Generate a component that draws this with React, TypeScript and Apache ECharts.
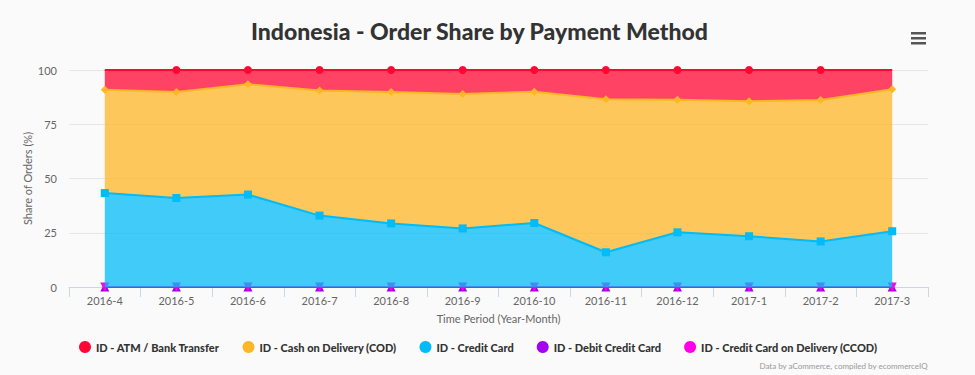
import React, { useEffect, useRef } from "react";
import * as echarts from "echarts";

const categories = ["2016-4","2016-5","2016-6","2016-7","2016-8","2016-9","2016-10","2016-11","2016-12","2017-1","2017-2","2017-3"];
const atmBank = [9.1, 10.1, 6.6, 9.4, 10.1, 11.1, 10.0, 13.5, 13.7, 14.4, 13.8, 8.9];
const cod = [47.6, 48.9, 50.8, 57.7, 60.6, 61.9, 60.5, 70.5, 61.1, 62.2, 65.2, 65.4];
const creditCard = [43.3, 41.0, 42.6, 32.9, 29.3, 27.0, 29.5, 16.0, 25.2, 23.4, 21.0, 25.7];
const debitCreditCard = [0, 0, 0, 0, 0, 0, 0, 0, 0, 0, 0, 0];
const ccod = [0, 0, 0, 0, 0, 0, 0, 0, 0, 0, 0, 0];
const yTicks = [0, 25, 50, 75, 100];

const names = {
  atm: "ID - ATM / Bank Transfer",
  cod: "ID - Cash on Delivery (COD)",
  cc: "ID - Credit Card",
  debit: "ID - Debit Credit Card",
  ccod: "ID - Credit Card on Delivery (CCOD)",
};

const colors = {
  atm: "#FF0633",
  cod: "#FDB625",
  cc: "#02BBF7",
  debit: "#A200EE",
  ccod: "#FF00E6",
};

export default function App() {
  const ref = useRef<HTMLDivElement>(null);
  useEffect(() => {
    if (!ref.current) return;
    const chart = echarts.init(ref.current, null, { renderer: "svg" });
    const font = "Lato, 'Noto Sans', sans-serif";
    const mk = (
      name: string,
      color: string,
      data: any[],
      symbol: string,
      symbolSize: number,
      extra: any = {}
    ) => ({
      name,
      type: "line",
      stack: "total",
      data,
      symbol,
      symbolSize,
      showSymbol: true,
      showAllSymbol: true,
      itemStyle: { color },
      lineStyle: { color, width: 2 },
      areaStyle: { color, opacity: 0.75 },
      emphasis: { disabled: true },
      ...extra,
    });
    const atmData = atmBank.map((v, i) =>
      i === 0 || i === atmBank.length - 1 ? { value: v, symbol: "none" } : v
    );
    chart.setOption({
      animation: false,
      backgroundColor: "#FAFAFA",
      textStyle: { fontFamily: font },
      title: {
        text: "Indonesia - Order Share by Payment Method",
        left: 246,
        top: 14,
        textStyle: { fontFamily: font, fontSize: 23, fontWeight: 900, color: "#333333" },
      },
      legend: {
        data: [names.atm, names.cod, names.cc, names.debit, names.ccod],
        left: 74,
        top: 336,
        icon: "circle",
        itemWidth: 12,
        itemHeight: 12,
        itemGap: 23,
        textStyle: { fontFamily: font, fontSize: 11, fontWeight: 900, color: "#333333" },
      },
      grid: { left: 69, right: 47, top: 70, bottom: 88, containLabel: false },
      xAxis: {
        type: "category",
        data: categories,
        boundaryGap: true,
        name: "Time Period (Year-Month)",
        nameLocation: "middle",
        nameGap: 26,
        nameMoveOverlap: false,
        nameTextStyle: { color: "#666666", fontSize: 11, fontFamily: font },
        axisLine: { lineStyle: { color: "#CCD6EB" } },
        axisTick: { show: true, alignWithLabel: false, length: 10, lineStyle: { color: "#CCD6EB" } },
        axisLabel: { color: "#666666", fontSize: 11, margin: 8, fontFamily: font },
        splitLine: { show: false },
      },
      yAxis: {
        type: "value",
        min: yTicks[0],
        max: yTicks[yTicks.length - 1],
        interval: 25,
        name: "Share of Orders (%)",
        nameLocation: "middle",
        nameGap: 36,
        nameMoveOverlap: false,
        nameRotate: 90,
        nameTextStyle: { color: "#666666", fontSize: 11, fontFamily: font },
        axisLine: { show: false },
        axisTick: { show: false },
        axisLabel: { color: "#666666", fontSize: 11, margin: 12, fontFamily: font },
        splitLine: { lineStyle: { color: "#E6E6E6", width: 1 } },
      },
      graphic: [
        { type: "rect", shape: { x: 911, y: 32, width: 15, height: 2.5 }, style: { fill: "#555" } },
        { type: "rect", shape: { x: 911, y: 37, width: 15, height: 2.5 }, style: { fill: "#555" } },
        { type: "rect", shape: { x: 911, y: 42, width: 15, height: 2.5 }, style: { fill: "#555" } },
        {
          type: "text",
          right: 47,
          top: 362,
          style: {
            text: "Data by aCommerce, compiled by ecommerceIQ",
            fill: "#999999",
            fontSize: 8,
            fontFamily: font,
          },
        },
      ],
      series: [
        mk(names.ccod, colors.ccod, ccod, "triangle", 9, { symbolRotate: 180, z: 2 }),
        mk(names.debit, colors.debit, debitCreditCard, "triangle", 9, { z: 1 }),
        mk(names.cc, colors.cc, creditCard, "rect", 8),
        mk(names.cod, colors.cod, cod, "diamond", 8),
        mk(names.atm, colors.atm, atmData, "circle", 8),
      ],
    });
    return () => chart.dispose();
  }, []);
  return (
    <div
      ref={ref}
      style={{ position: "fixed", left: 0, top: 0, width: 975, height: 375 }}
    />
  );
}
